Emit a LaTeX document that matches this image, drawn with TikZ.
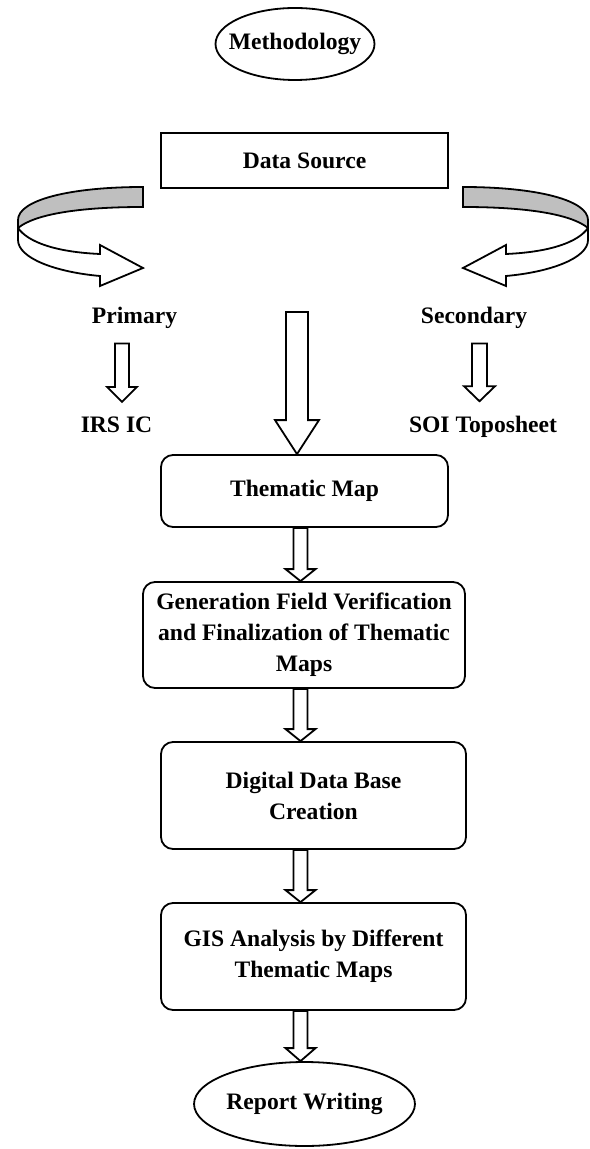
\documentclass[tikz,border=0pt]{standalone}
\usepackage{fontspec}
\setmainfont{Liberation Serif}
\usetikzlibrary{shapes.geometric,calc}

\tikzset{
  txt/.style={font=\fontsize{11.8}{15.5}\selectfont\bfseries},
  oval/.style={txt,ellipse,draw,line width=0.9pt,inner sep=0pt},
  plainbox/.style={txt,rectangle,draw,line width=0.9pt},
  stepbox/.style={txt,rectangle,rounded corners=6pt,draw,line width=0.9pt,align=center},
  branch/.style={txt,anchor=base,inner ysep=7pt},
  blockarrow/.style={draw,fill=white,line width=0.9pt,line join=miter},
  band/.style={draw,line width=0.9pt,line join=miter},
  turnarrow/.pic={
    \draw[band,fill=black!25] (143,187) .. controls (70,187) and (18,200) .. (18,220)
      -- (18,228) .. controls (35,214) and (80,207) .. (143,207) -- cycle;
    \draw[band,fill=white] (18,228) -- (18,240) .. controls (18,258) and (55,272) .. (100,276)
      -- (100,286) -- (143,268) -- (100,245) -- (100,254)
      .. controls (55,252) and (28,242) .. (18,228) -- cycle;
  }
}

% hollow down arrow: column, from, to, half shaft, half head, head length
\newcommand{\fatarrow}[6]{%
  \draw[blockarrow] ($(#1|-#2)+(-#4,0)$) -- ($(#1|-#3)+(-#4,-#6)$) -- ($(#1|-#3)+(-#5,-#6)$)
    -- (#1|-#3) -- ($(#1|-#3)+(#5,-#6)$) -- ($(#1|-#3)+(#4,-#6)$) -- ($(#1|-#2)+(#4,0)$) -- cycle;}

\begin{document}
\begin{tikzpicture}[x=0.5pt,y=-0.5pt]
\useasboundingbox (0,0) rectangle (589,1149);

\node[oval,inner xsep=-5pt,minimum height=36pt] (meth) at (295,44) {Methodology};
\node[plainbox,minimum width=143.5pt,minimum height=27.5pt] (src) at (304.5,160.5) {Data Source};

\pic at (0,0) {turnarrow};
\pic[xscale=-1] at (606,0) {turnarrow};

\node[branch] (prim) at (134.5,324) {Primary};
\node[branch] (sec) at (474,324) {Secondary};
\node[branch] (irs) at (116.5,432) {IRS IC};
\node[branch] (soi) at (483,432) {SOI Toposheet};

\node[stepbox,minimum width=143.5pt,minimum height=36pt] (thm) at (304.5,491) {Thematic Map};
\node[stepbox,minimum width=161pt,minimum height=53pt] (gen) at (304,635)
  {Generation Field Verification\\and Finalization of Thematic\\Maps};
\node[stepbox,minimum width=152.5pt,minimum height=53.5pt] (dig) at (313.5,795.5)
  {Digital Data Base\\Creation};
\node[stepbox,minimum width=152.5pt,minimum height=53.5pt] (gis) at (313.5,956.5)
  {GIS Analysis by Different\\Thematic Maps};
\node[oval,minimum height=42pt] (rep) at (304.5,1104) {Report Writing};

\coordinate (colL) at (122,0);
\coordinate (colR) at (479.5,0);
\coordinate (spine) at (300.5,0);
\coordinate (feed) at (297,312);

\fatarrow{colL}{prim.south}{irs.north}{7}{15}{15}
\fatarrow{colR}{sec.south}{soi.north}{7.5}{15.5}{15}
\fatarrow{feed}{feed}{thm.north}{11}{22}{34}
\fatarrow{spine}{thm.south}{gen.north}{7}{15}{12}
\fatarrow{spine}{gen.south}{dig.north}{7}{15}{12}
\fatarrow{spine}{dig.south}{gis.north}{7}{15}{12}
\fatarrow{spine}{gis.south}{rep.north}{7}{15}{13}
\end{tikzpicture}
\end{document}
